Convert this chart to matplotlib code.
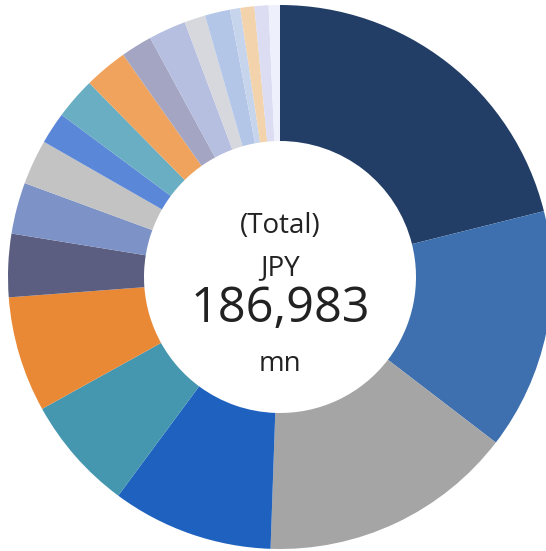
import matplotlib
matplotlib.use("Agg")
import matplotlib.pyplot as plt

values = [39470, 26750, 28310, 17920, 12730, 12830, 7010, 5710, 4990, 3530,
          4620, 4830, 3480, 4160, 2340, 2800, 1140, 1560, 1560, 1250]
colors = ["#223e66", "#3e6fae", "#a5a5a5", "#1e61bf", "#4597af", "#e98936",
          "#5b5e80", "#7d92c6", "#c3c3c3", "#5a87d8", "#69aec2", "#f0a35c",
          "#a3a5c2", "#b6bfe0", "#d6d8de", "#b4c6e8", "#c6d4ec", "#f2d3ab",
          "#dcdcf2", "#eef1fb"]
center_lines = ["(Total)", "JPY", "186,983", "mn"]

fig = plt.figure(figsize=(5.46, 5.51), dpi=100)
ax = fig.add_axes([8 / 546, 2 / 551, 544 / 546, 544 / 551])

ax.pie(values, colors=colors, startangle=90, counterclock=False, radius=1.0,
       wedgeprops=dict(width=0.5, linewidth=0))
ax.set_xlim(-1, 1)
ax.set_ylim(-1, 1)
ax.set_aspect("auto")
ax.axis("off")

font = "Open Sans"
ax.text(0, 0.162, center_lines[0], ha="center", va="baseline", fontsize=20,
        family=font, color="#222222")
ax.text(0, 0.007, center_lines[1], ha="center", va="baseline", fontsize=20,
        family=font, color="#222222")
ax.text(0, -0.165, center_lines[2], ha="center", va="baseline", fontsize=35,
        family=font, color="#222222")
ax.text(0, -0.345, center_lines[3], ha="center", va="baseline", fontsize=20,
        family=font, color="#222222")

fig.savefig("out.png", dpi=100)
